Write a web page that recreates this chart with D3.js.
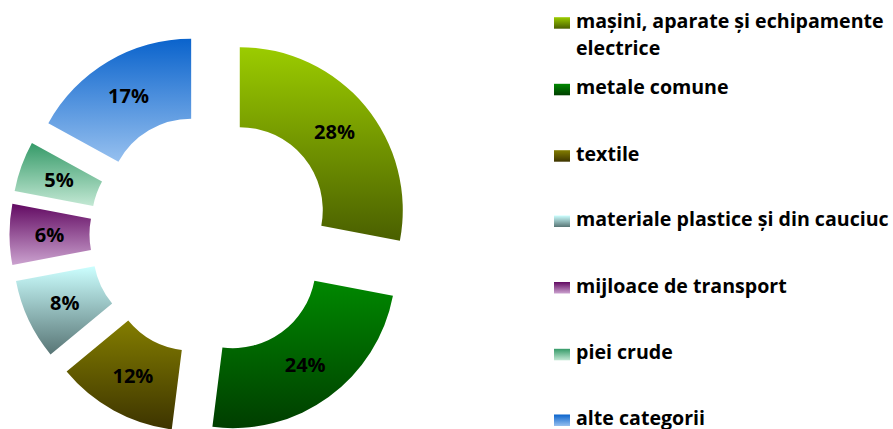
<!DOCTYPE html>
<html>
<head>
<meta charset="utf-8">
<script src="https://cdn.jsdelivr.net/npm/d3@7"></script>
<style>
  html, body { margin: 0; padding: 0; background: #fff; }
  svg { display: block; }
  text { font-family: "Open Sans", Lato, sans-serif; font-weight: 700; fill: #000; }
</style>
</head>
<body>
<svg id="chart" width="893" height="429"></svg>
<script>
// Structure of exports by product group (share of total, %)
const categories = [
  ["mașini, aparate și echipamente", "electrice"],
  ["metale comune"],
  ["textile"],
  ["materiale plastice și din cauciuc"],
  ["mijloace de transport"],
  ["piei crude"],
  ["alte categorii"]
];
const values = [28, 24, 12, 8, 6, 5, 17];
const valueLabels = ["28%", "24%", "12%", "8%", "6%", "5%", "17%"];

// Vertical gradient per group: [top colour, bottom colour]
const gradientStops = [
  ["#9bcc00", "#4a5f00"],
  ["#008800", "#003e00"],
  ["#837d00", "#3d3400"],
  ["#ccffff", "#587575"],
  ["#620a62", "#cba2cf"],
  ["#359a68", "#c3e8d4"],
  ["#0a63cc", "#96c0ef"]
];

const svg = d3.select("#chart");
const defs = svg.append("defs");

gradientStops.forEach((g, i) => {
  const lg = defs.append("linearGradient")
    .attr("id", "grad" + i)
    .attr("x1", 0).attr("y1", 0).attr("x2", 0).attr("y2", 1);
  lg.append("stop").attr("offset", "0%").attr("stop-color", g[0]);
  lg.append("stop").attr("offset", "100%").attr("stop-color", g[1]);
});

// Donut geometry
const cx = 210.5, cy = 234.4;
const outerR = 163, innerR = 83, explode = 38;

const pie = d3.pie().sort(null).value(d => d).startAngle(0).endAngle(2 * Math.PI);
const arc = d3.arc().innerRadius(innerR).outerRadius(outerR);
const arcs = pie(values);

const donut = svg.append("g").attr("transform", `translate(${cx},${cy})`);

const slice = donut.selectAll("g.slice")
  .data(arcs)
  .join("g")
  .attr("class", "slice")
  .attr("transform", d => {
    const mid = (d.startAngle + d.endAngle) / 2;
    return `translate(${explode * Math.sin(mid)},${-explode * Math.cos(mid)})`;
  });

slice.append("path")
  .attr("d", arc)
  .attr("fill", (d, i) => `url(#grad${i})`);

slice.append("text")
  .attr("transform", d => `translate(${arc.centroid(d)})`)
  .attr("text-anchor", "middle")
  .attr("dy", "0.36em")
  .style("font-size", "20px")
  .text((d, i) => valueLabels[i]);

// Legend
const legendX = 554, legendTextX = 576;
const baselines = [27.7, 94.3, 160.7, 226, 292.5, 359.3, 425];
const lineGap = 27.3;

const legend = svg.append("g").attr("class", "legend");
categories.forEach((lines, i) => {
  const y = baselines[i];
  legend.append("rect")
    .attr("x", legendX).attr("y", y - 10.5)
    .attr("width", 16).attr("height", 11.5)
    .attr("fill", `url(#grad${i})`);
  const t = legend.append("text")
    .attr("x", legendTextX).attr("y", y)
    .style("font-size", "19.6px");
  lines.forEach((ln, j) => {
    t.append("tspan")
      .attr("x", legendTextX)
      .attr("y", y + j * lineGap)
      .text(ln);
  });
});
</script>
</body>
</html>
